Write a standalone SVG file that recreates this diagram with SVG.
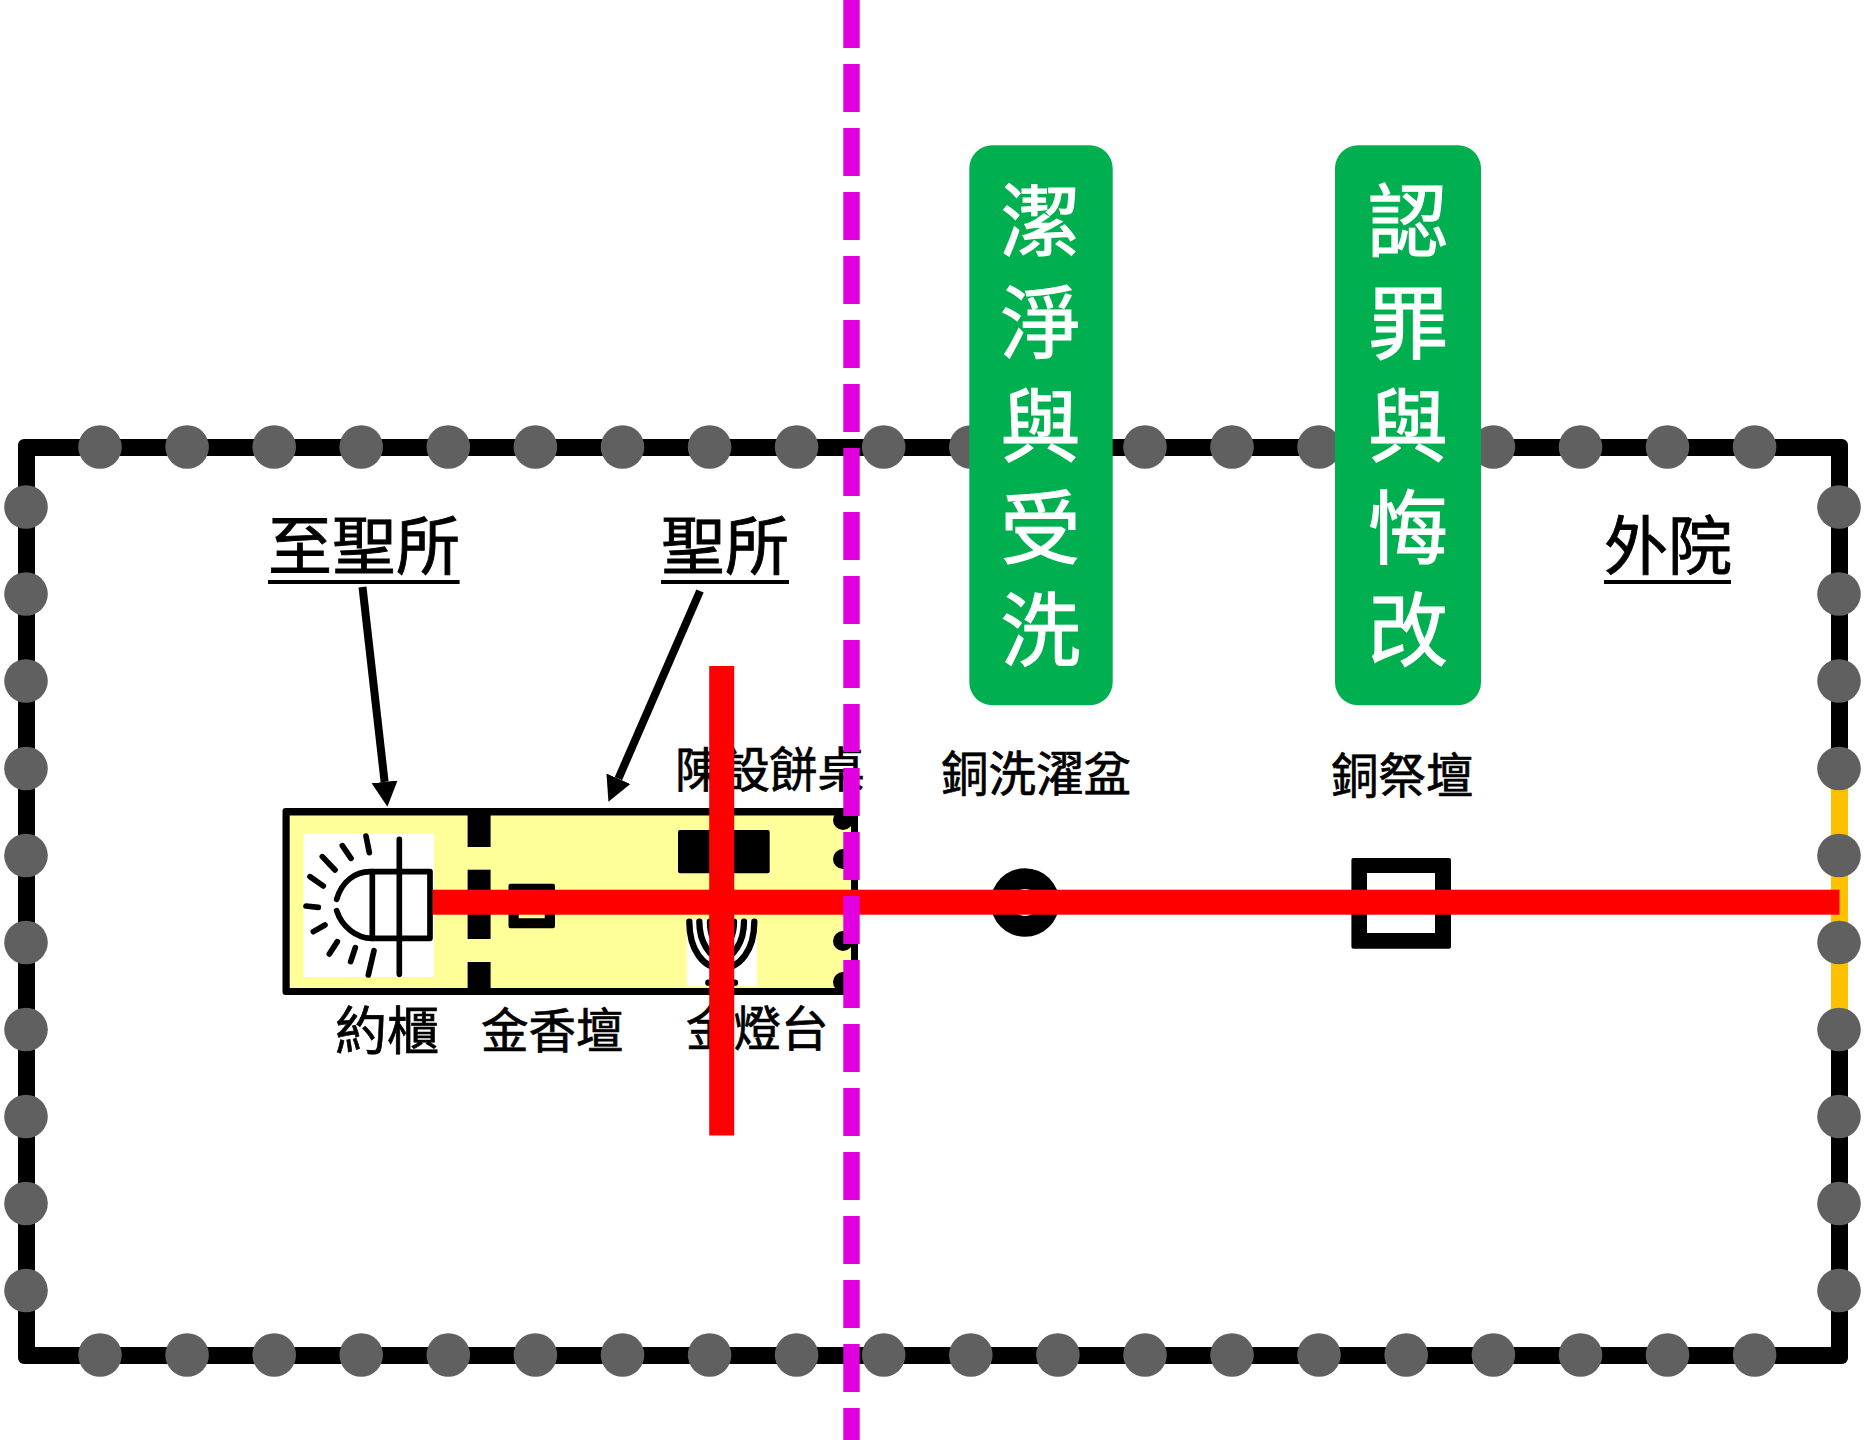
<svg xmlns="http://www.w3.org/2000/svg" width="1864" height="1440" viewBox="0 0 1864 1440">
<style>
text{font-family:"Noto Sans CJK TC","Noto Sans CJK JP",sans-serif;fill:#000;font-weight:400;stroke:#000;stroke-width:.7}
.big{font-size:64px;stroke-width:.9}
.small{font-size:47.5px}
.pilltext{font-size:80px;fill:#fff;stroke:#fff;stroke-width:1.2;text-anchor:middle}
.pill{fill:#00B050}
.dot{fill:#606060;stroke:none}
.blk{fill:#000}
.ul{fill:#000}
.ink{fill:none;stroke:#000;stroke-linecap:round;stroke-linejoin:round}
.red{fill:#FF0000}
.arrow{fill:none;stroke:#000;stroke-width:8;marker-end:url(#head)}
</style>
<defs>
<marker id="head" markerUnits="userSpaceOnUse" viewBox="0 -14 26 28" markerWidth="26" markerHeight="28" refX="0" refY="0" orient="auto"><path d="M0,-13L25,0L0,13Z" fill="#000"/></marker>
<circle id="d" r="21.8" class="dot"/>
</defs>
<rect width="1864" height="1440" fill="#fff"/>
<g id="outer-court">
<rect x="18" y="439" width="1830" height="925" rx="6" fill="#000"/>
<rect x="35" y="456" width="1796" height="891" fill="#fff"/>
<rect x="1831" y="768" width="17" height="261" fill="#FFC000"/>
</g>
<g id="posts">
<use href="#d" x="100" y="447"/><use href="#d" x="187.1" y="447"/><use href="#d" x="274.2" y="447"/><use href="#d" x="361.2" y="447"/><use href="#d" x="448.3" y="447"/><use href="#d" x="535.4" y="447"/><use href="#d" x="622.5" y="447"/><use href="#d" x="709.6" y="447"/><use href="#d" x="796.6" y="447"/><use href="#d" x="883.7" y="447"/><use href="#d" x="970.8" y="447"/><use href="#d" x="1145" y="447"/><use href="#d" x="1232" y="447"/><use href="#d" x="1319" y="447"/><use href="#d" x="1493.4" y="447"/><use href="#d" x="1580.5" y="447"/><use href="#d" x="1667.5" y="447"/><use href="#d" x="1754.6" y="447"/>
<use href="#d" x="100" y="1355"/><use href="#d" x="187.1" y="1355"/><use href="#d" x="274.2" y="1355"/><use href="#d" x="361.2" y="1355"/><use href="#d" x="448.3" y="1355"/><use href="#d" x="535.4" y="1355"/><use href="#d" x="622.5" y="1355"/><use href="#d" x="709.6" y="1355"/><use href="#d" x="796.6" y="1355"/><use href="#d" x="883.7" y="1355"/><use href="#d" x="970.8" y="1355"/><use href="#d" x="1057.9" y="1355"/><use href="#d" x="1145" y="1355"/><use href="#d" x="1232" y="1355"/><use href="#d" x="1319" y="1355"/><use href="#d" x="1406.2" y="1355"/><use href="#d" x="1493.4" y="1355"/><use href="#d" x="1580.5" y="1355"/><use href="#d" x="1667.5" y="1355"/><use href="#d" x="1754.6" y="1355"/>
<use href="#d" x="26" y="507"/><use href="#d" x="26" y="594"/><use href="#d" x="26" y="681"/><use href="#d" x="26" y="768.5"/><use href="#d" x="26" y="855.5"/><use href="#d" x="26" y="942.5"/><use href="#d" x="26" y="1029.5"/><use href="#d" x="26" y="1116.5"/><use href="#d" x="26" y="1203.5"/><use href="#d" x="26" y="1290.5"/>
<use href="#d" x="1839" y="507"/><use href="#d" x="1839" y="594"/><use href="#d" x="1839" y="681"/><use href="#d" x="1839" y="768.5"/><use href="#d" x="1839" y="855.5"/><use href="#d" x="1839" y="942.5"/><use href="#d" x="1839" y="1029.5"/><use href="#d" x="1839" y="1116.5"/><use href="#d" x="1839" y="1203.5"/><use href="#d" x="1839" y="1290.5"/>
</g>
<g id="tabernacle">
<rect x="282.5" y="808" width="575.5" height="187" rx="3" fill="#000"/>
<rect x="289.7" y="815.5" width="561.3" height="172.5" fill="#FFFF99"/>
<rect class="blk" x="467.6" y="812" width="23" height="35"/>
<rect class="blk" x="467.6" y="869.7" width="23" height="69.3"/>
<rect class="blk" x="467.6" y="962" width="23" height="28"/>
<circle class="blk" cx="843" cy="820" r="10"/>
<circle class="blk" cx="843" cy="859" r="10"/>
<circle class="blk" cx="843" cy="941" r="10"/>
<circle class="blk" cx="843" cy="982" r="10"/>
</g>
<g id="ark">
<rect x="303.7" y="833.7" width="130.3" height="143.3" fill="#fff"/>
<g class="ink" stroke-width="17" transform="translate(280 810) scale(.3333)">
<path d="M170,268C185,215 225,185 270,185H450V385H275C230,385 185,350 170,302"/>
<path d="M277,185V385M358,88V493"/>
<path d="M258,78L268,128M187,107L213,145M127,140L165,180M90,200L130,228M78,288L115,292M100,365L135,345M148,432L172,395M212,455L226,413M265,495L282,422"/>
</g>
</g>
<g id="incense-altar"><path fill-rule="evenodd" fill="#000" d="M510.5,883.7H553a2,2 0 0 1 2,2V926.3a2,2 0 0 1 -2,2H510.5a2,2 0 0 1 -2,-2V885.7a2,2 0 0 1 2,-2ZM518.7,893.7V918.3H544.7V893.7Z"/></g>
<g id="showbread-table"><rect class="blk" x="678" y="830" width="91.7" height="43.3" rx="2"/></g>
<g id="lampstand">
<rect x="686.7" y="920" width="70.3" height="66" fill="#fff"/>
<g class="ink" stroke-width="19" transform="translate(660 880) scale(.3333)" stroke-linecap="butt">
<path d="M88,125C88,210 130,265 185,265C240,265 283,210 283,125"/>
<path d="M118,125C118,185 150,235 185,235C220,235 252,185 252,125"/>
<path d="M150,125C150,165 165,200 185,200C205,200 222,165 222,125"/>
<path d="M185,200V300M145,308H225"/>
</g>
</g>
<g id="laver">
<circle class="blk" cx="1025" cy="902.5" r="34.3"/>
<circle cx="1025" cy="902.5" r="13.5" fill="#fff"/>
</g>
<g id="bronze-altar"><path fill-rule="evenodd" fill="#000" d="M1353.4,858H1449a2,2 0 0 1 2,2V946.7a2,2 0 0 1 -2,2H1353.4a2,2 0 0 1 -2,-2V860a2,2 0 0 1 2,-2ZM1367,873V933H1435V873Z"/><rect x="1367" y="873" width="68" height="60" fill="#fff"/></g>
<g id="labels">
<text class="big" x="268" y="569">至聖所</text><rect class="ul" x="268" y="580" width="191.6" height="4"/>
<text class="big" x="661" y="569">聖所</text><rect class="ul" x="661" y="580" width="128" height="4"/>
<text class="big" x="1604" y="569">外院</text><rect class="ul" x="1604" y="580" width="127" height="4"/>
<text class="small" x="675" y="787">陳設餅桌</text>
<text class="small" x="941" y="791">銅洗濯盆</text>
<text class="small" x="1331" y="793">銅祭壇</text>
<text x="335" y="1050" font-size="52">約櫃</text>
<text class="small" x="481" y="1048">金香壇</text>
<text class="small" x="686" y="1046">金燈台</text>
</g>
<g id="connectors">
<path class="arrow" d="M362.5,587L384.6,781.9"/>
<path class="arrow" d="M700,591L618.4,778.7"/>
</g>
<g id="red-cross">
<rect class="red" x="432.8" y="889.7" width="1406.7" height="25"/>
<rect class="red" x="709.2" y="666" width="25" height="469.5"/>
</g>
<g id="cleansing">
<rect class="pill" x="969.3" y="145.3" width="143.4" height="560" rx="23"/>
<text class="pilltext"><tspan x="1040.5" y="250">潔</tspan><tspan x="1040.5" y="352">淨</tspan><tspan x="1040.5" y="454.5">與</tspan><tspan x="1040.5" y="557">受</tspan><tspan x="1040.5" y="659">洗</tspan></text>
</g>
<g id="confession">
<rect class="pill" x="1335" y="145.3" width="146" height="560" rx="23"/>
<text class="pilltext"><tspan x="1408" y="250">認</tspan><tspan x="1408" y="352">罪</tspan><tspan x="1408" y="454.5">與</tspan><tspan x="1408" y="557">悔</tspan><tspan x="1408" y="659">改</tspan></text>
</g>
<g id="divider"><path d="M851.5,0V1440" fill="none" stroke="#E000E0" stroke-width="16.4" stroke-dasharray="48 16"/></g>
</svg>
